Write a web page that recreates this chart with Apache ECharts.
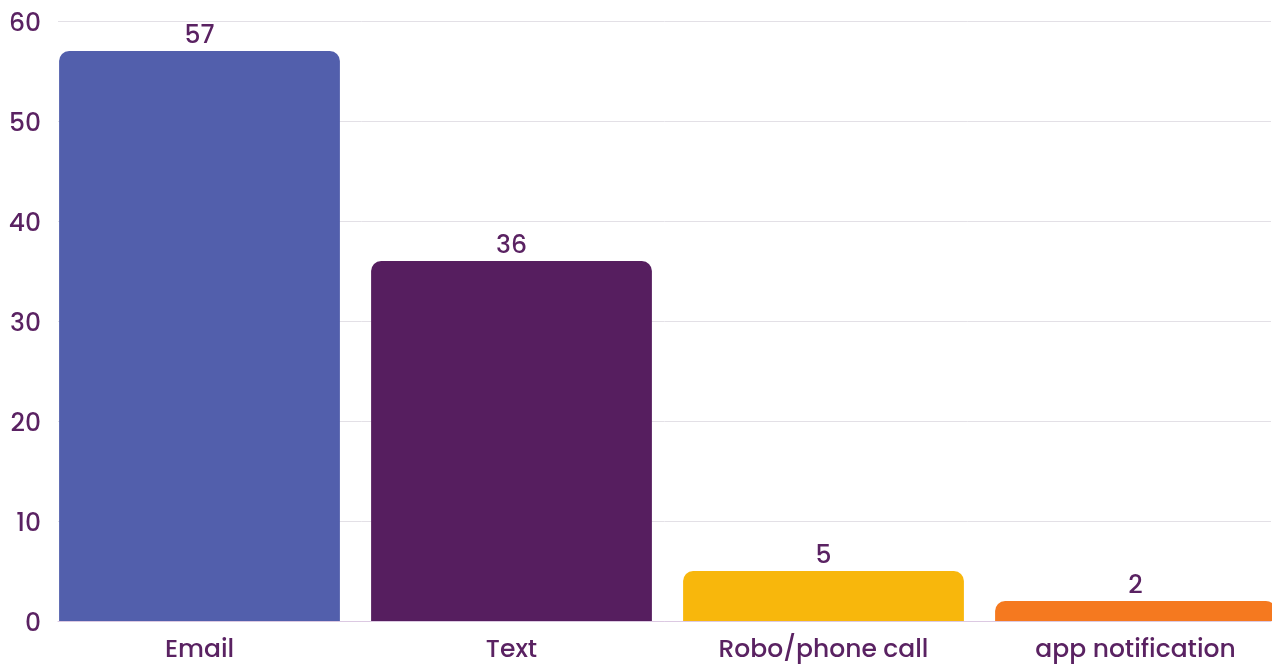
<!DOCTYPE html>
<html>
<head>
<meta charset="utf-8">
<script src="https://cdn.jsdelivr.net/npm/echarts@6/dist/echarts.min.js"></script>
<style>
  html, body { margin: 0; padding: 0; background: #ffffff; }
  #chart { width: 1272px; height: 667px; }
</style>
</head>
<body>
<div id="chart"></div>
<script>
// Notification channel counts
const categories = ['Email', 'Text', 'Robo/phone call', 'app notification'];
const counts = [57, 36, 5, 2];
const barColors = ['#525fac', '#561e5f', '#f8b70c', '#f5791f'];
const yTicks = { min: 0, max: 60, step: 10 };

const textColor = '#5a2262';
const fontFamily = 'Poppins, Lato, "Open Sans", sans-serif';

const chart = echarts.init(document.getElementById('chart'), null, { renderer: 'canvas' });

chart.setOption({
  backgroundColor: '#ffffff',
  animation: false,
  grid: [
    // bars
    { left: 43.5, width: 1248, top: 21, bottom: 46, containLabel: false, outerBoundsMode: 'none' },
    // value scale, gridlines and baseline
    { left: 58, right: 1, top: 21, bottom: 46, containLabel: false, outerBoundsMode: 'none' }
  ],
  xAxis: [
    {
      type: 'category',
      gridIndex: 0,
      data: categories,
      axisLine: { show: false },
      axisTick: { show: false },
      axisLabel: { color: textColor, fontSize: 25, fontWeight: 500, fontFamily: fontFamily, margin: 17 }
    },
    {
      type: 'category',
      gridIndex: 1,
      data: [''],
      axisLine: { show: true, lineStyle: { color: '#dcc9e2', width: 1 } },
      axisTick: { show: false },
      axisLabel: { show: false }
    }
  ],
  yAxis: [
    {
      type: 'value',
      gridIndex: 0,
      min: yTicks.min, max: yTicks.max, interval: yTicks.step,
      axisLabel: { show: false },
      splitLine: { show: false },
      axisLine: { show: false }
    },
    {
      type: 'value',
      gridIndex: 1,
      min: yTicks.min, max: yTicks.max, interval: yTicks.step,
      axisLine: { show: false },
      axisTick: { show: false },
      axisLabel: {
        margin: 17,
        formatter: (v) => '{t|' + v + '}',
        rich: {
          t: {
            color: textColor, fontSize: 25, fontWeight: 500, fontFamily: fontFamily,
            padding: [7, 0, 0, 0]
          }
        }
      },
      splitLine: { show: true, lineStyle: { color: '#e3e0e6', width: 1 } }
    }
  ],
  series: [
    {
      type: 'bar',
      xAxisIndex: 0,
      yAxisIndex: 0,
      barCategoryGap: '10%',
      z: 3,
      data: counts.map((v, i) => ({
        value: v,
        itemStyle: { color: barColors[i], borderRadius: [10, 10, 0, 0] }
      })),
      label: {
        show: true,
        position: 'top',
        distance: 2,
        color: textColor,
        fontSize: 25,
        fontWeight: 500,
        fontFamily: fontFamily
      }
    }
  ]
});
</script>
</body>
</html>
